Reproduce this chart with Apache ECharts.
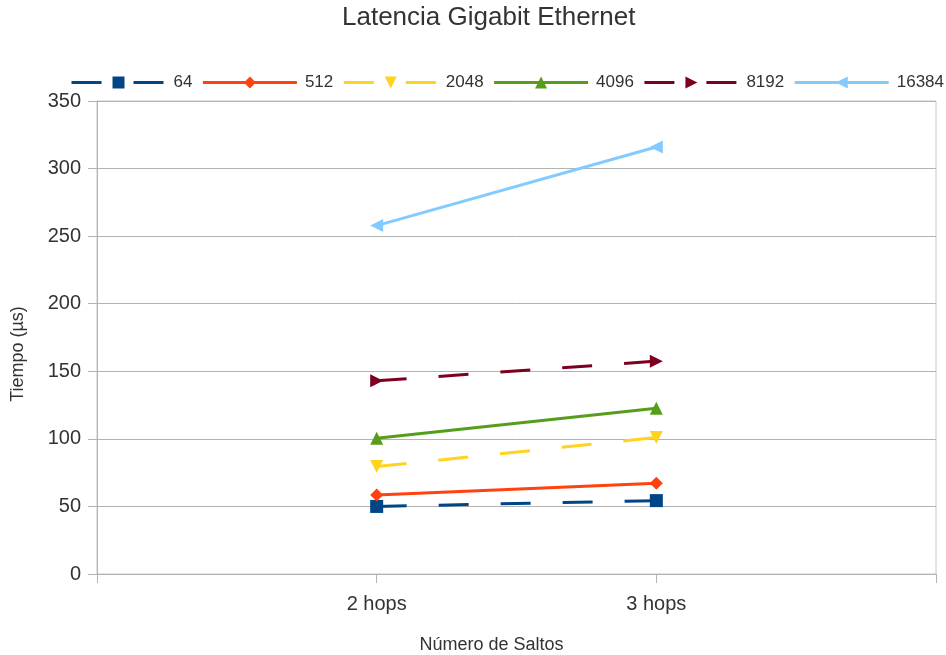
<!DOCTYPE html>
<html>
<head>
<meta charset="utf-8">
<script src="https://cdn.jsdelivr.net/npm/echarts@6/dist/echarts.min.js"></script>
<style>
  html, body { margin: 0; padding: 0; background: #ffffff; }
  #chart { width: 946px; height: 655px; }
</style>
</head>
<body>
<div id="chart"></div>
<script>
// Hop counts on the x axis (padded with empty slots at both ends)
const categories = ['', '2 hops', '3 hops', ''];

// Latency (µs) per packet size, for 2 and 3 hops
const lat64    = [null, 50.0, 54.3, null];
const lat512   = [null, 58.5, 67.2, null];
const lat2048  = [null, 79.5, 101.0, null];
const lat4096  = [null, 100.5, 122.7, null];
const lat8192  = [null, 143.0, 157.5, null];
const lat16384 = [null, 257.8, 316.0, null];

const seriesNames = ['64', '512', '2048', '4096', '8192', '16384'];
const seriesData = [lat64, lat512, lat2048, lat4096, lat8192, lat16384];

const colors = ['#004586', '#ff420e', '#ffd320', '#579d1c', '#7e0021', '#83caff'];
const symbols = ['rect', 'diamond', 'triangle', 'triangle', 'triangle', 'triangle'];
const rotations = [0, 0, 180, 0, -90, 90];
const dashed = [true, false, true, false, true, false];

const FONT = '"Liberation Sans", Arial, sans-serif';

const chart = echarts.init(document.getElementById('chart'), null, { renderer: 'canvas' });

const series = seriesNames.map((name, i) => ({
  name: name,
  type: 'line',
  data: seriesData[i],
  color: colors[i],
  symbol: symbols[i],
  symbolSize: 13,
  symbolRotate: rotations[i],
  showAllSymbol: true,
  connectNulls: false,
  lineStyle: {
    width: 3,
    color: colors[i],
    type: dashed[i] ? [30, 32] : 'solid'
  },
  itemStyle: { color: colors[i] },
  emphasis: { disabled: true },
  animation: false
}));

chart.setOption({
  backgroundColor: '#ffffff',
  animation: false,
  textStyle: { fontFamily: FONT },
  title: {
    text: 'Latencia Gigabit Ethernet',
    left: 342,
    top: 5,
    padding: 0,
    textStyle: { fontFamily: FONT, fontSize: 26, fontWeight: 'normal', color: '#333333' }
  },
  legend: {
    data: seriesNames,
    left: 70,
    top: 74,
    width: 900,
    padding: 0,
    itemWidth: 94,
    itemHeight: 15,
    itemGap: 9,
    selectedMode: false,
    lineStyle: { width: 3 },
    textStyle: { fontFamily: FONT, fontSize: 17, color: '#333333', padding: [0, 0, 0, 3] }
  },
  grid: {
    left: 97,
    right: 10,
    top: 101,
    bottom: 81,
    outerBoundsMode: 'none',
    containLabel: false,
    show: true,
    borderColor: '#c8c8c8',
    borderWidth: 1
  },
  xAxis: {
    type: 'category',
    data: categories,
    boundaryGap: false,
    name: 'Número de Saltos',
    nameLocation: 'middle',
    nameGap: 62,
    nameTextStyle: { fontFamily: FONT, fontSize: 18, color: '#333333', padding: [0, 50, 0, 0] },
    axisLine: { lineStyle: { color: '#b3b3b3', width: 1 } },
    axisTick: { show: true, length: 9, lineStyle: { color: '#b3b3b3' } },
    axisLabel: { fontFamily: FONT, fontSize: 20, color: '#333333', margin: 20 },
    splitLine: { show: false }
  },
  yAxis: {
    type: 'value',
    min: 0,
    max: 350,
    interval: 50,
    name: 'Tiempo (µs)',
    nameLocation: 'middle',
    nameGap: 70,
    nameTextStyle: { fontFamily: FONT, fontSize: 18, color: '#333333', padding: [0, 33, 0, 0] },
    axisLine: { show: true, lineStyle: { color: '#b3b3b3', width: 1 } },
    axisTick: { show: true, length: 9, lineStyle: { color: '#b3b3b3' } },
    axisLabel: { fontFamily: FONT, fontSize: 20, color: '#333333', margin: 16 },
    splitLine: { show: true, lineStyle: { color: '#b3b3b3', width: 1 } }
  },
  series: series
});
</script>
</body>
</html>
